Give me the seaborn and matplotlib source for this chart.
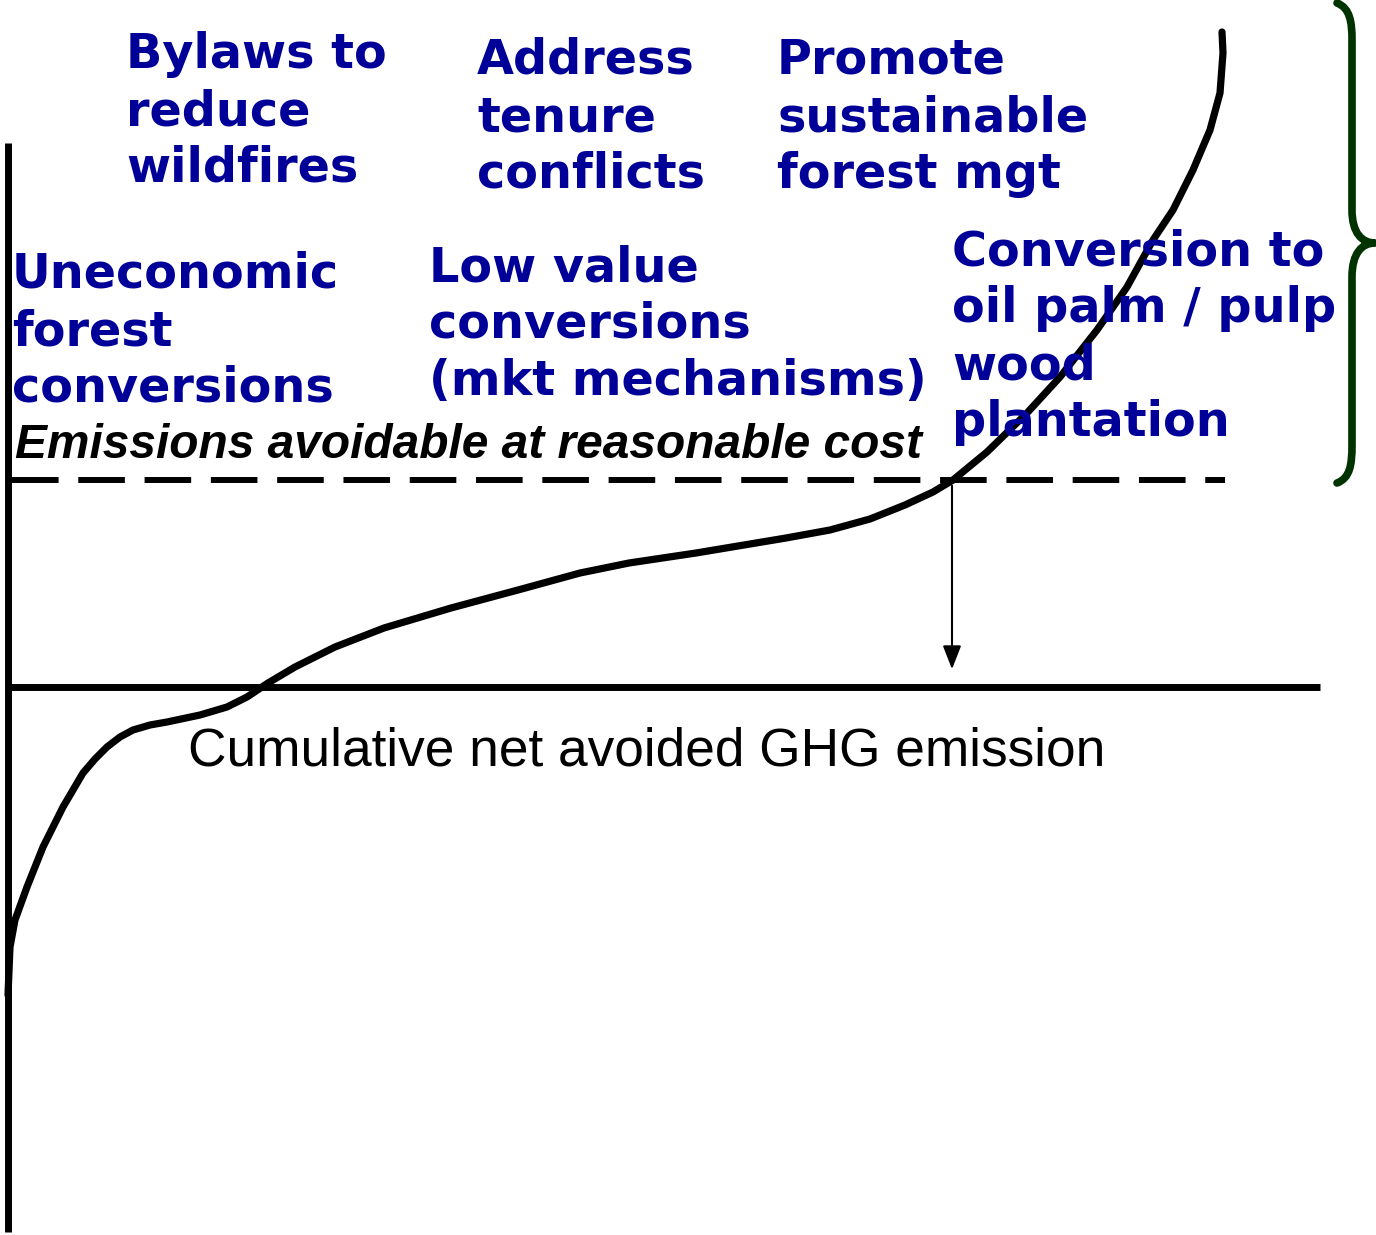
"""Marginal cost curve of avoided forest emissions (schematic)."""

import matplotlib

matplotlib.use("Agg")

import matplotlib.pyplot as plt
import pandas as pd
import seaborn as sns
from matplotlib.patches import FancyArrowPatch, PathPatch
from matplotlib.path import Path

# cost curve: cumulative avoided emission (x) vs cost (y)
curve_x = [0.00, 0.02, 0.07, 0.19, 0.35, 0.55, 0.75, 0.87, 0.99, 1.12, 1.25,
           1.42, 1.59, 1.92, 2.19, 2.39, 2.60, 2.87, 3.27, 3.76, 4.43, 5.10,
           5.72, 6.21, 6.88, 7.78, 8.22, 8.62, 8.97, 9.25, 9.45, 9.79, 10.19,
           10.52, 10.89, 11.19, 11.45, 11.65, 11.85, 12.02, 12.12, 12.15, 12.14]
curve_y = [-3.08, -2.60, -2.33, -2.00, -1.60, -1.20, -0.86, -0.72, -0.60, -0.50,
           -0.43, -0.38, -0.35, -0.28, -0.20, -0.10, 0.04, 0.20, 0.40, 0.59,
           0.79, 0.97, 1.14, 1.24, 1.34, 1.49, 1.57, 1.68, 1.82, 1.95, 2.07,
           2.35, 2.74, 3.10, 3.57, 4.00, 4.47, 4.77, 5.17, 5.57, 5.94, 6.34, 6.55]

threshold_cost = 2.07      # "reasonable cost" level
threshold_x = 9.44         # where the curve crosses it
x_axis_end = 13.12
y_axis_top = 5.44
y_axis_bottom = -5.45

measure_labels = [
    ["Bylaws to", "reduce", "wildfires"],
    ["Address", "tenure", "conflicts"],
    ["Promote", "sustainable", "forest mgt"],
    ["Uneconomic", "forest", "conversions"],
    ["Low value", "conversions", "(mkt mechanisms)"],
    ["Conversion to", "oil palm / pulp", "wood", "plantation"],
]
label_x = [1.18, 4.69, 7.69, 0.04, 4.21, 9.44]
label_y = [6.19, 6.13, 6.13, 3.99, 4.06, 4.22]

BLUE = "#000099"
GREEN = "#003300"
LINE_PITCH = 0.57


def brace_path(x0, y_low, y_high, depth):
    """Right-facing curly brace from y_low to y_high."""
    mid = (y_low + y_high) / 2
    arm = 0.15
    tip = x0 + depth
    xs = x0 + arm
    verts = [
        (x0, y_high),
        (x0 + 0.13, y_high - 0.05), (xs, y_high - 0.19), (xs, y_high - 0.37),
        (xs, mid + 0.33),
        (xs, mid + 0.10), (xs + 0.10, mid), (tip, mid),
        (xs + 0.10, mid), (xs, mid - 0.10), (xs, mid - 0.34),
        (xs, y_low + 0.38),
        (xs, y_low + 0.18), (x0 + 0.13, y_low + 0.05), (x0, y_low),
    ]
    codes = [Path.MOVETO,
             Path.CURVE4, Path.CURVE4, Path.CURVE4,
             Path.LINETO,
             Path.CURVE4, Path.CURVE4, Path.CURVE4,
             Path.CURVE4, Path.CURVE4, Path.CURVE4,
             Path.LINETO,
             Path.CURVE4, Path.CURVE4, Path.CURVE4]
    return Path(verts, codes)


sns.set_theme(style="white")
plt.rcParams["font.family"] = ["DejaVu Sans"]

fig = plt.figure(figsize=(13.76, 12.35), dpi=100)
ax = fig.add_axes([0, 0, 1, 1])
ax.set_xlim(-0.08, 13.68)
ax.set_ylim(-5.48, 6.87)
ax.axis("off")

# axes of the diagram
ax.plot([0, 0], [y_axis_bottom, y_axis_top], color="black", lw=5, solid_capstyle="butt")
ax.plot([0, x_axis_end], [0, 0], color="black", lw=5, solid_capstyle="butt")

# reasonable cost threshold
ax.plot([0.04, 12.17], [threshold_cost, threshold_cost], color="black", lw=4.3,
        dashes=(7.8, 3.3), solid_capstyle="butt")

curve = pd.DataFrame({"x": curve_x, "y": curve_y})
sns.lineplot(data=curve, x="x", y="y", sort=False, estimator=None,
             color="black", lw=5.2, solid_joinstyle="round",
             solid_capstyle="round", ax=ax)

arrow = FancyArrowPatch((threshold_x, threshold_cost - 0.03), (threshold_x, 0.15),
                        arrowstyle="-|>,head_length=0.9,head_width=0.35",
                        mutation_scale=16, color="black", lw=1.5)
ax.add_patch(arrow)

ax.add_patch(PathPatch(brace_path(13.29, threshold_cost - 0.03, 6.84, 0.38),
                       facecolor="none", edgecolor=GREEN, lw=5.5,
                       capstyle="round", joinstyle="round"))

for lines, lx, ly in zip(measure_labels, label_x, label_y):
    for i, line in enumerate(lines):
        ax.text(lx, ly - i * LINE_PITCH, line, color=BLUE, fontsize=34.4,
                fontweight="bold", ha="left", va="baseline")

ax.text(0.07, 2.29, "Emissions avoidable at reasonable cost", color="black",
        family=["Liberation Sans", "DejaVu Sans"], fontsize=34.5,
        fontweight="bold", fontstyle="italic", ha="left", va="baseline")
ax.text(1.80, -0.79, "Cumulative net avoided GHG emission", color="black",
        family=["Liberation Sans", "DejaVu Sans"], fontsize=38.3,
        ha="left", va="baseline")

fig.savefig("out.png", dpi=100, facecolor="white")
plt.close(fig)
